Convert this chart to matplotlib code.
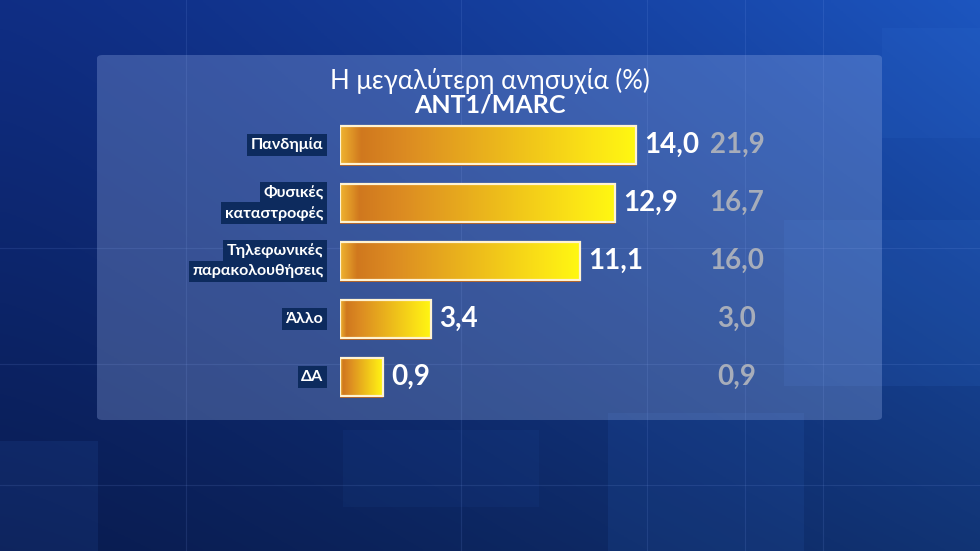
import numpy as np
import matplotlib.pyplot as plt
import matplotlib.colors as mcolors
import matplotlib.transforms as mtransforms
from matplotlib.patches import FancyBboxPatch

plt.rcParams['font.family'] = ['Lato', 'DejaVu Sans']

# data
labels = [["Πανδημία"], ["Φυσικές", "καταστροφές"], ["Τηλεφωνικές", "παρακολουθήσεις"],
          ["Άλλο"], ["ΔΑ"]]
current = [14.0, 12.9, 11.1, 3.4, 0.9]
previous = [21.9, 16.7, 16.0, 3.0, 0.9]
title = "Η μεγαλύτερη ανησυχία (%)"
subtitle = "ANT1/MARC"

fig = plt.figure(figsize=(9.8, 5.51), dpi=100)

# background
bg = fig.add_axes([0, 0, 1, 1])
bg.axis('off')
w, h = 300, 200
c_left = np.array(mcolors.to_rgb('#0f2d82'))
c_right = np.array(mcolors.to_rgb('#1c54bc'))
t = np.linspace(0, 1, w) ** 1.3
row = c_left[None, :] * (1 - t)[:, None] + c_right[None, :] * t[:, None]
shade = np.linspace(1.02, 0.62, h)[:, None, None]
img = np.clip(row[None, :, :] * shade, 0, 1)
bg.imshow(img, extent=[0, 1, 0, 1], aspect='auto', origin='upper', zorder=0)
# faint mosaic blocks
for (x0, y0, bw, bh, a) in [(0.62, 0.0, 0.2, 0.25, 0.10), (0.80, 0.30, 0.2, 0.3, 0.12),
                            (0.0, 0.0, 0.1, 0.2, 0.10), (0.90, 0.75, 0.1, 0.2, 0.10),
                            (0.35, 0.08, 0.2, 0.14, 0.06)]:
    bg.add_patch(plt.Rectangle((x0, y0), bw, bh, color='#3d7be0', alpha=a, lw=0, zorder=1))
for xv in [0.19, 0.47, 0.66, 0.76, 0.84]:
    bg.axvline(xv, color='#8fb0ff', alpha=0.12, lw=0.8, zorder=1)
for yv in [0.55, 0.34, 0.12]:
    bg.axhline(yv, color='#8fb0ff', alpha=0.12, lw=0.8, zorder=1)
bg.set_xlim(0, 1)
bg.set_ylim(0, 1)

# translucent panel
panel = FancyBboxPatch((97 / 980, (551 - 420) / 551), (882 - 97) / 980, (420 - 55) / 551,
                       boxstyle="round,pad=0,rounding_size=0.006",
                       facecolor='#a9c0f5', alpha=0.27, lw=0, zorder=2,
                       transform=bg.transAxes)
bg.add_patch(panel)

fig.text(0.5, 1 - 81 / 551, title, ha='center', va='center', color='white', fontsize=18.5)
fig.text(0.5, 1 - 105 / 551, subtitle, ha='center', va='center', color='white',
         fontsize=18, fontweight='bold')

# bars
ax = fig.add_axes([340 / 980, (551 - 406) / 551, 540 / 980, 290 / 551])
ax.axis('off')
base = -1.33
xmax = base + 540 / 19.3
bar_cmap = mcolors.LinearSegmentedColormap.from_list(
    'bar', [(0, '#efb330'), (0.07, '#d0781e'), (0.22, '#dc8b22'), (0.85, '#fbe316'),
            (1, '#fff812')])
grad = np.linspace(0, 1, 256)[None, :]
bh = 0.66

for i, v in enumerate(current):
    ax.barh(i + bh / 2, v - base, left=base, height=0.07, color='#a9561a', zorder=2)
    bar = ax.barh(i, v - base, left=base, height=bh, color='none',
                  edgecolor='#fff3d2', lw=1.6, zorder=4)[0]
    im = ax.imshow(grad, cmap=bar_cmap, extent=[base, v, i + bh / 2, i - bh / 2],
                   aspect='auto', zorder=3)
    im.set_clip_path(bar)
    ax.annotate(f"{v:.1f}".replace('.', ','), xy=(v, i), xytext=(6, 0),
                textcoords='offset points', ha='left', va='center',
                color='white', fontsize=20, fontweight='bold', zorder=5)
    trans = mtransforms.blended_transform_factory(ax.transAxes, ax.transData)
    ax.text(0.735, i, f"{previous[i]:.1f}".replace('.', ','), transform=trans,
            ha='center', va='center', color='#a7adba', fontsize=20, fontweight='bold')
    lines = labels[i]
    offs = [0] if len(lines) == 1 else [7.5, -7.5]
    for line, dy in zip(lines, offs):
        ax.annotate(line, xy=(base, i), xytext=(-12, dy), textcoords='offset points',
                    ha='right', va='center', color='white', fontsize=11.5,
                    fontweight='bold',
                    bbox=dict(boxstyle='square,pad=0.22', fc='#0d2b5e', ec='none'))

ax.set_xlim(base, xmax)
ax.set_ylim(len(current) - 0.5, -0.5)

fig.savefig('out.png', dpi=100)
